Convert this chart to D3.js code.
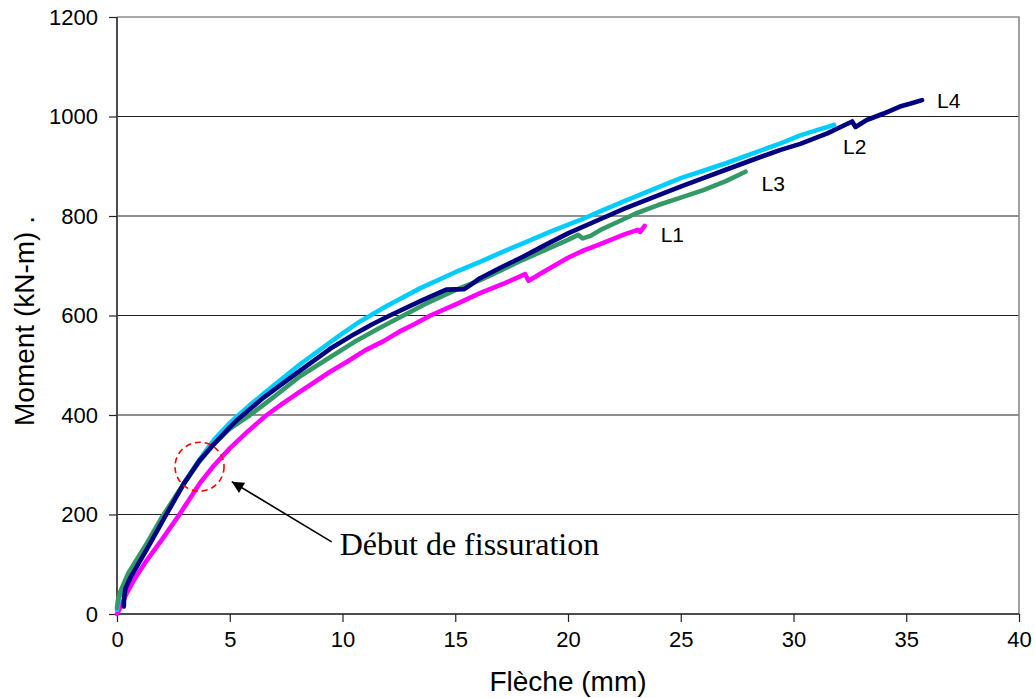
<!DOCTYPE html>
<html><head><meta charset="utf-8">
<script src="https://cdn.jsdelivr.net/npm/d3@7"></script>
<style>html,body{margin:0;padding:0;background:#fff;}</style>
</head><body>
<svg id="chart" width="1035" height="698"></svg>
<script>
// ---- data ----
const seriesNames = ["L1", "L2", "L3", "L4"];
const xTicks = [0, 5, 10, 15, 20, 25, 30, 35, 40];
const yTicks = [0, 200, 400, 600, 800, 1000, 1200];

const L1 = [[0,0],[0.2,18],[0.43,42],[0.8,72],[1.32,108],[2,150],[2.8,202],[3.66,262],[4.27,297],[5,333],[5.8,367],[6.64,400],[7.4,425],[8.12,447],[9.45,487],[10.2,507],[11,530],[11.8,548],[12.5,567],[13.2,583],[13.9,600],[15,622],[16.1,645],[17.2,665],[18.1,683],[18.25,670],[19,690],[20,716],[20.7,731],[21.4,743],[22.5,763],[23.1,772],[23.2,768],[23.4,780]];
const L2 = [[0,8],[0.1,35],[0.5,75],[1.32,138],[2.15,200],[3,265],[3.65,310],[4.3,350],[5,384],[6,424],[7,461],[8.12,502],[9.45,546],[10,564],[10.78,588],[12,620],[13.5,656],[15,687],[16.1,708],[17,726],[18,745],[19.3,770],[20.55,792],[21.5,811],[22.5,830],[23.8,854],[25,876],[26,891],[27,906],[28.2,926],[29.43,946],[30.3,962],[31,972],[31.8,983]];
const L3 = [[0,12],[0.05,30],[0.15,45],[0.5,82],[1.32,142],[2,195],[3,265],[3.65,306],[4.3,342],[5,372],[5.9,400],[7,438],[8.12,478],[9.45,516],[10.5,546],[11.6,574],[12.7,600],[13.8,626],[15,651],[16.1,671],[17,690],[18,712],[19,732],[20,752],[20.45,762],[20.65,755],[21,760],[21.44,772],[22.2,788],[23,805],[24,822],[25,837],[26,852],[27,870],[27.87,889]];
const L4 = [[0.3,15],[0.32,35],[0.38,52],[0.58,72],[1.32,130],[2.15,197],[2.94,260],[3.65,308],[4.27,340],[5,375],[5.38,392],[6.5,435],[8,485],[9.45,533],[10.5,562],[11.3,582],[12.1,600],[13.5,630],[14.6,652],[15.4,653],[15.7,662],[16.1,675],[17,696],[18,718],[19,742],[20,765],[20.55,776],[21.5,795],[22.5,815],[23.8,838],[24.99,859],[26,876],[27,893],[28.2,913],[29.43,933],[30.3,945],[31.5,966],[32.6,990],[32.75,979],[33.25,993],[34,1006],[34.72,1020],[35.2,1026],[35.7,1033]];
const seriesData = [L1, L2, L3, L4];

// annotation (data coordinates)
const circleCenter = [3.66, 296];
const arrowTip = [5.09, 266];
const arrowTail = [9.52, 145];
const annotText = "Début de fissuration";
const xTitle = "Flèche (mm)";
const yTitle = "Moment (kN-m) .";

// ---- styles ----
const colors = {L1:"#ff00ff", L2:"#00ccff", L3:"#339966", L4:"#000080"};
const labelOffset = {L1:[16,16], L2:[9,29], L3:[16,19], L4:[15,8]};

const svg = d3.select("#chart");
const pL = 117, pR = 1019, pT = 17, pB = 614;
const x = d3.scaleLinear().domain([0, 40]).range([pL, pR]);
const y = d3.scaleLinear().domain([0, 1200]).range([pB, pT]);

// gridlines
svg.append("g").selectAll("line").data(yTicks.filter(d => d > 0 && d < 1200)).join("line")
  .attr("x1", pL).attr("x2", pR)
  .attr("y1", d => y(d)).attr("y2", d => y(d))
  .attr("stroke", "#222").attr("stroke-width", 1.2);

// plot border (top/right gray)
svg.append("path")
  .attr("d", `M${pL},${y(1200)}H${pR}V${pB}`)
  .attr("fill", "none").attr("stroke", "#8c8c8c").attr("stroke-width", 1.6);

// axes
const xAxis = d3.axisBottom(x).tickValues(xTicks).tickSize(8).tickPadding(9).tickFormat(d3.format("d"));
const yAxis = d3.axisLeft(y).tickValues(yTicks).tickSize(8).tickPadding(11).tickFormat(d3.format("d"));
const gx = svg.append("g").attr("transform", `translate(0,${pB})`).call(xAxis);
const gy = svg.append("g").attr("transform", `translate(${pL},0)`).call(yAxis);
[gx, gy].forEach(g => {
  g.select(".domain").attr("stroke", "#4d4d4d").attr("stroke-width", 2);
  g.selectAll(".tick line").attr("stroke", "#222").attr("stroke-width", 1.2);
  g.selectAll(".tick text").attr("fill", "#000")
    .style("font-family", "Arial, 'Liberation Sans', sans-serif").style("font-size", "22px");
});
gy.select(".domain").attr("d", `M0,${pB}V${pT}`);
gx.select(".domain").attr("d", `M${pL},0H${pR}`);

// series
const line = d3.line().x(d => x(d[0])).y(d => y(d[1]));
seriesNames.forEach((name, i) => {
  svg.append("path").datum(seriesData[i])
    .attr("d", line).attr("fill", "none")
    .attr("stroke", colors[name]).attr("stroke-width", 4.6)
    .attr("stroke-linejoin", "round").attr("stroke-linecap", "round");
});

// series labels
seriesNames.forEach((name, i) => {
  const last = seriesData[i][seriesData[i].length - 1];
  svg.append("text")
    .attr("x", x(last[0]) + labelOffset[name][0])
    .attr("y", y(last[1]) + labelOffset[name][1])
    .style("font-family", "Arial, 'Liberation Sans', sans-serif").style("font-size", "21px")
    .attr("fill", "#000").text(name);
});

// annotation circle
svg.append("circle").attr("cx", x(circleCenter[0])).attr("cy", y(circleCenter[1])).attr("r", 24.5)
  .attr("fill", "none").attr("stroke", "#ff0000").attr("stroke-width", 1.6).attr("stroke-dasharray", "6,4");

// arrow
const defs = svg.append("defs");
defs.append("marker").attr("id", "ah").attr("viewBox", "0 0 10 10").attr("refX", 10).attr("refY", 5)
  .attr("markerWidth", 16).attr("markerHeight", 12).attr("markerUnits", "userSpaceOnUse")
  .attr("orient", "auto").append("path").attr("d", "M0,0L10,5L0,10Z").attr("fill", "#000");
svg.append("line")
  .attr("x1", x(arrowTail[0])).attr("y1", y(arrowTail[1]))
  .attr("x2", x(arrowTip[0])).attr("y2", y(arrowTip[1]))
  .attr("stroke", "#000").attr("stroke-width", 1.6).attr("marker-end", "url(#ah)");

svg.append("text").attr("x", x(arrowTail[0]) + 8).attr("y", 555)
  .style("font-family", "'Times New Roman', 'Liberation Serif', serif").style("font-size", "32px")
  .attr("fill", "#000").text(annotText);

// axis titles
svg.append("text").attr("x", (pL + pR) / 2).attr("y", 691).attr("text-anchor", "middle")
  .style("font-family", "Arial, 'Liberation Sans', sans-serif").style("font-size", "28px").text(xTitle);
svg.append("text").attr("transform", "translate(34,321) rotate(-90)").attr("text-anchor", "middle")
  .style("font-family", "Arial, 'Liberation Sans', sans-serif").style("font-size", "28px").text(yTitle);
</script>
</body></html>
